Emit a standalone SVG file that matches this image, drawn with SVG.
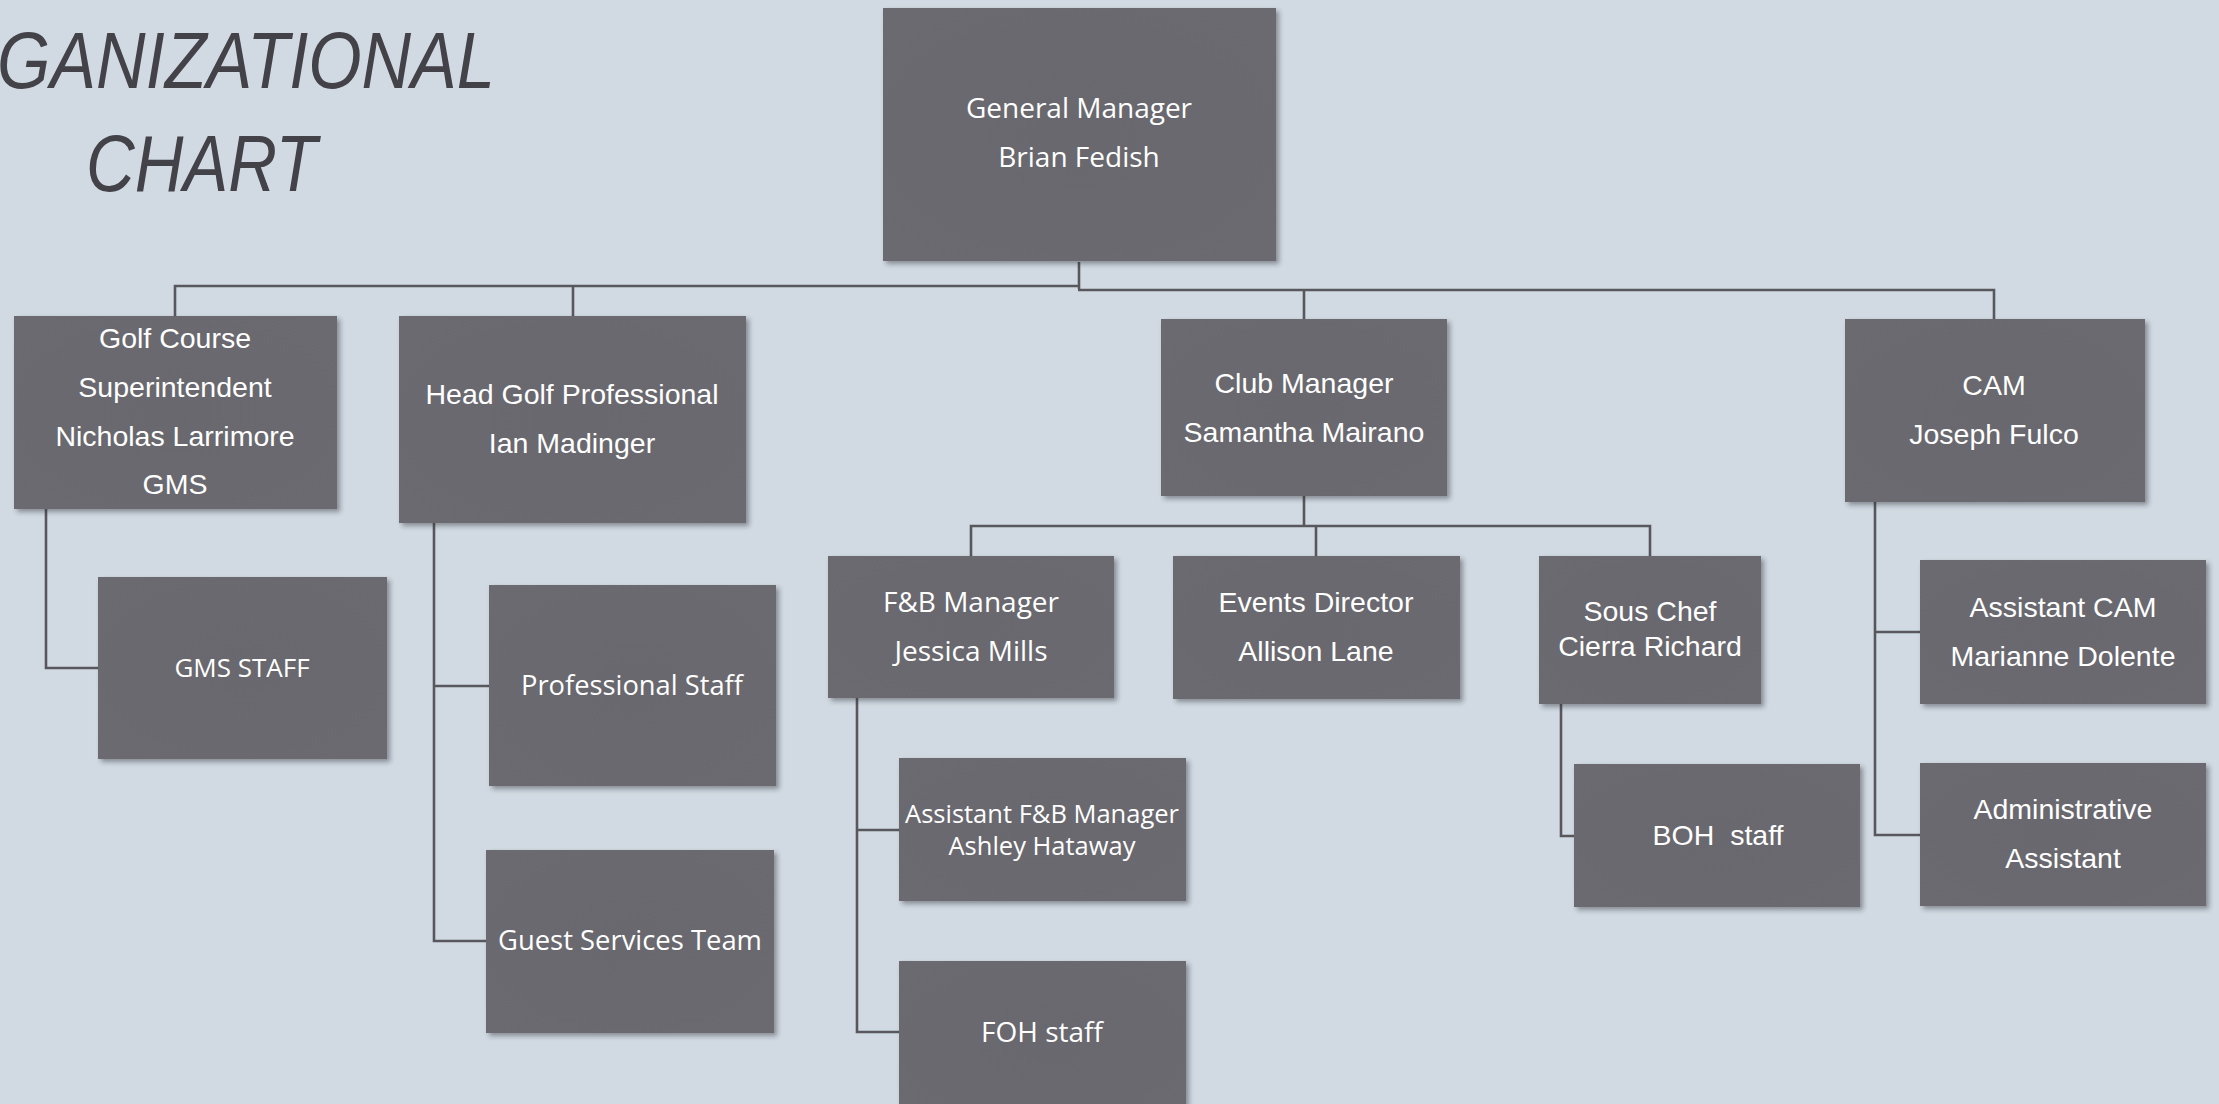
<svg xmlns="http://www.w3.org/2000/svg" width="2219" height="1104" viewBox="0 0 2219 1104">
<style>
.bx{fill:url(#boxg);filter:url(#sh)}
.c{font-family:"Liberation Sans",Arial,sans-serif;font-size:28.5px;fill:#ffffff;text-anchor:middle}
.s{font-family:"Open Sans","Liberation Sans",sans-serif;font-size:28px;fill:#ffffff;text-anchor:middle}
.ln{fill:none;stroke:#58575d;stroke-width:2.6}
.title{font-family:"Liberation Sans",Arial,sans-serif;font-style:italic;font-size:79px;fill:#434248}
</style>
<defs>
<radialGradient id="boxg" cx="0.5" cy="0.5" r="0.7">
<stop offset="0" stop-color="#69686e"/>
<stop offset="1" stop-color="#6b6a70"/>
</radialGradient>
<filter id="sh" x="-5%" y="-5%" width="115%" height="115%">
<feDropShadow dx="3" dy="3" stdDeviation="2.5" flood-color="#2a2a30" flood-opacity="0.45"/>
</filter>
</defs>
<rect x="0" y="0" width="2219" height="1104" fill="#d1dae2"/>
<g id="title">
<text class="title" x="-3" y="88" textLength="498" lengthAdjust="spacingAndGlyphs">GANIZATIONAL</text>
<text class="title" x="86" y="191" textLength="231" lengthAdjust="spacingAndGlyphs">CHART</text>
</g>
<g id="connectors">
<path class="ln" d="M1079,262 V289"/>
<path class="ln" d="M1080,286 H175 V317 M573,286 V317"/>
<path class="ln" d="M1078,290 H1994 V319 M1304,290 V319"/>
<path class="ln" d="M46,509 V668 H98"/>
<path class="ln" d="M434,523 V941 H486 M434,686 H489"/>
<path class="ln" d="M1304,496 V526 M971,556 V526 H1650 V556 M1316,526 V556"/>
<path class="ln" d="M857,698 V1032 H899 M857,830 H899"/>
<path class="ln" d="M1561,704 V836 H1574"/>
<path class="ln" d="M1875,502 V835 H1920 M1875,632 H1920"/>
</g>
<g id="general-manager">
<rect class="bx" x="883" y="8" width="393" height="253"/>
<text class="s" x="1079" y="118">General Manager</text>
<text class="s" x="1079" y="167">Brian Fedish</text>
</g>
<g id="golf-course-superintendent">
<rect class="bx" x="14" y="316" width="323" height="193"/>
<text class="c" x="175" y="348">Golf Course</text>
<text class="c" x="175" y="397">Superintendent</text>
<text class="c" x="175" y="446">Nicholas Larrimore</text>
<text class="c" x="175" y="494">GMS</text>
</g>
<g id="head-golf-professional">
<rect class="bx" x="399" y="316" width="347" height="207"/>
<text class="c" x="572" y="404">Head Golf Professional</text>
<text class="c" x="572" y="453">Ian Madinger</text>
</g>
<g id="club-manager">
<rect class="bx" x="1161" y="319" width="286" height="177"/>
<text class="c" x="1304" y="393">Club Manager</text>
<text class="c" x="1304" y="442">Samantha Mairano</text>
</g>
<g id="cam">
<rect class="bx" x="1845" y="319" width="300" height="183"/>
<text class="c" x="1994" y="395">CAM</text>
<text class="c" x="1994" y="444">Joseph Fulco</text>
</g>
<g id="gms-staff">
<rect class="bx" x="98" y="577" width="289" height="182"/>
<text class="s" x="242" y="677" style="font-size:26px">GMS STAFF</text>
</g>
<g id="professional-staff">
<rect class="bx" x="489" y="585" width="287" height="201"/>
<text class="s" x="632" y="695" style="font-size:27.3px">Professional Staff</text>
</g>
<g id="guest-services-team">
<rect class="bx" x="486" y="850" width="288" height="183"/>
<text class="s" x="630" y="950" style="font-size:27.4px">Guest Services Team</text>
</g>
<g id="fb-manager">
<rect class="bx" x="828" y="556" width="286" height="142"/>
<text class="s" x="971" y="612">F&amp;B Manager</text>
<text class="s" x="971" y="661">Jessica Mills</text>
</g>
<g id="events-director">
<rect class="bx" x="1173" y="556" width="287" height="143"/>
<text class="c" x="1316" y="612">Events Director</text>
<text class="c" x="1316" y="661">Allison Lane</text>
</g>
<g id="sous-chef">
<rect class="bx" x="1539" y="556" width="222" height="148"/>
<text class="c" x="1650" y="621">Sous Chef</text>
<text class="c" x="1650" y="656">Cierra Richard</text>
</g>
<g id="assistant-fb-manager">
<rect class="bx" x="899" y="758" width="287" height="143"/>
<text class="s" x="1042" y="823" style="font-size:25.5px">Assistant F&amp;B Manager</text>
<text class="s" x="1042" y="855" style="font-size:25.5px">Ashley Hataway</text>
</g>
<g id="foh-staff">
<rect class="bx" x="899" y="961" width="287" height="160"/>
<text class="s" x="1042" y="1042">FOH staff</text>
</g>
<g id="boh-staff">
<rect class="bx" x="1574" y="764" width="286" height="143"/>
<text class="c" x="1718" y="845" xml:space="preserve">BOH  staff</text>
</g>
<g id="assistant-cam">
<rect class="bx" x="1920" y="560" width="286" height="144"/>
<text class="c" x="2063" y="617">Assistant CAM</text>
<text class="c" x="2063" y="666">Marianne Dolente</text>
</g>
<g id="administrative-assistant">
<rect class="bx" x="1920" y="763" width="286" height="143"/>
<text class="c" x="2063" y="819">Administrative</text>
<text class="c" x="2063" y="868">Assistant</text>
</g>
</svg>
